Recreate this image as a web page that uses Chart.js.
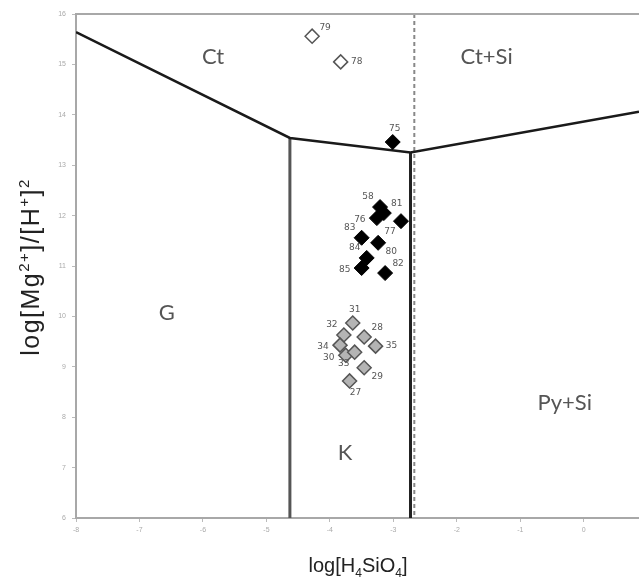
<!DOCTYPE html>
<html>
<head>
<meta charset="utf-8">
<script src="https://cdn.jsdelivr.net/npm/chart.js@4"></script>
<style>
  html, body { margin: 0; padding: 0; background: #fff; }
  #wrap { width: 639px; height: 583px; }
</style>
</head>
<body>
<div id="wrap"><canvas id="c" width="639" height="583"></canvas></div>
<script>
// phase boundaries
const upperBoundary = [[-8, 15.64], [-4.63, 13.54], [-2.73, 13.25], [0.87, 14.06]];
const gkBoundary = [[-4.63, 13.54], [-4.63, 6]];
const kpyBoundary = [[-2.73, 13.25], [-2.73, 6]];
const silicaLine = [[-2.67, 16], [-2.67, 6]];

// samples
const openIds = ['79', '78'];
const openX = [-4.28, -3.83];
const openY = [15.56, 15.05];

const blackIds = ['75', '58', '81', '76', '77', '83', '80', '84', '85', '82'];
const blackX = [-3.01, -3.21, -3.15, -3.26, -2.88, -3.50, -3.24, -3.42, -3.50, -3.13];
const blackY = [13.46, 12.17, 12.05, 11.95, 11.89, 11.56, 11.46, 11.16, 10.96, 10.86];

const grayIds = ['31', '32', '28', '34', '35', '30', '33', '29', '27'];
const grayX = [-3.64, -3.78, -3.46, -3.84, -3.28, -3.75, -3.61, -3.46, -3.69];
const grayY = [9.87, 9.63, 9.59, 9.43, 9.41, 9.23, 9.29, 8.98, 8.72];

const fields = ['Ct', 'Ct+Si', 'G', 'K', 'Py+Si'];
const fieldX = [-5.84, -1.53, -6.57, -3.76, -0.30];
const fieldY = [15.15, 15.15, 10.07, 7.29, 8.28];

// axis titles: [text, 0 normal / 1 superscript / -1 subscript]
const xTitle = [['log[H', 0], ['4', -1], ['SiO', 0], ['4', -1], [']', 0]];
const yTitle = [['log[Mg', 0], ['2+', 1], [']/[H', 0], ['+', 1], [']', 0], ['2', 1]];

// where each sample label sits around its marker
const labelSide = {
  '79': 'ne', '78': 'e', '75': 'n', '58': 'nw', '81': 'ne', '76': 'w', '77': 'sw',
  '83': 'nw', '80': 'se', '84': 'nw', '85': 'w', '82': 'ne',
  '31': 'n', '32': 'nw', '28': 'ne', '34': 'w', '35': 'e', '30': 'w', '33': 'sw', '29': 'se', '27': 's'
};
const sideOffset = {
  n: [2, -13], ne: [13, -9], e: [16, 0], se: [13, 9], s: [6, 12],
  sw: [-11, 11], w: [-17, 2], nw: [-12, -10]
};

const pts = (xs, ys) => xs.map((x, i) => ({ x, y: ys[i] }));
const line = (arr) => arr.map(([x, y]) => ({ x, y }));

const lineStyle = (data, color, width, dash) => ({
  type: 'line', data: line(data), borderColor: color, borderWidth: width,
  borderDash: dash || [], pointRadius: 0, fill: false, tension: 0, order: 2
});

const FAM = '"Liberation Sans", Arial, sans-serif';

function richText(ctx, parts, cx, cy, size, spacing) {
  const big = size + 'px ' + FAM;
  const small = Math.round(size * 0.6) + 'px ' + FAM;
  ctx.letterSpacing = (spacing || 0) + 'px';
  let w = 0;
  parts.forEach(([t, s]) => { ctx.font = s ? small : big; w += ctx.measureText(t).width; });
  let x = cx - w / 2;
  ctx.textAlign = 'left';
  ctx.textBaseline = 'alphabetic';
  const base = cy + size * 0.36;
  parts.forEach(([t, s]) => {
    ctx.font = s ? small : big;
    const dy = s === 1 ? -size * 0.42 : s === -1 ? size * 0.22 : 0;
    ctx.fillText(t, x, base + dy);
    x += ctx.measureText(t).width;
  });
  ctx.letterSpacing = '0px';
}

const overlay = {
  id: 'overlay',
  afterDatasetsDraw(chart) {
    const { ctx, chartArea: a, scales: { x, y } } = chart;
    ctx.save();
    // frame top
    ctx.strokeStyle = '#a8a8a8';
    ctx.lineWidth = 2;
    ctx.beginPath();
    ctx.moveTo(a.left, a.top);
    ctx.lineTo(a.right, a.top);
    ctx.stroke();

    // field names
    ctx.fillStyle = '#555';
    ctx.font = '22px Lato, "DejaVu Sans", sans-serif';
    ctx.textAlign = 'center';
    ctx.textBaseline = 'middle';
    fields.forEach((f, i) => ctx.fillText(f, x.getPixelForValue(fieldX[i]), y.getPixelForValue(fieldY[i])));

    // sample numbers
    ctx.font = '9px "DejaVu Sans", sans-serif';
    ctx.fillStyle = '#555';
    const put = (ids, xs, ys) => ids.forEach((id, i) => {
      const o = sideOffset[labelSide[id]];
      ctx.fillText(id, x.getPixelForValue(xs[i]) + o[0], y.getPixelForValue(ys[i]) + o[1]);
    });
    put(openIds, openX, openY);
    put(blackIds, blackX, blackY);
    put(grayIds, grayX, grayY);

    // axis titles
    ctx.fillStyle = '#222';
    richText(ctx, xTitle, 358, 565, 20, 0);
    ctx.translate(30, 267);
    ctx.rotate(-Math.PI / 2);
    richText(ctx, yTitle, 0, 0, 25, 1.5);
    ctx.restore();
  }
};

new Chart(document.getElementById('c'), {
  type: 'scatter',
  data: {
    datasets: [
      lineStyle(upperBoundary, '#1a1a1a', 2.5),
      lineStyle(gkBoundary, '#555', 3),
      lineStyle(silicaLine, '#888', 2, [4, 3]),
      lineStyle(kpyBoundary, '#222', 3),
      {
        data: pts(openX, openY), pointStyle: 'rectRot', pointRadius: 7,
        backgroundColor: '#fff', borderColor: '#555', borderWidth: 1.5, order: 1
      },
      {
        data: pts(grayX, grayY), pointStyle: 'rectRot', pointRadius: 7,
        backgroundColor: '#b4b4b4', borderColor: '#555', borderWidth: 1.5, order: 1
      },
      {
        data: pts(blackX, blackY), pointStyle: 'rectRot', pointRadius: 7.5,
        backgroundColor: '#000', borderColor: '#000', borderWidth: 1, order: 1
      }
    ]
  },
  options: {
    responsive: false,
    animation: false,
    events: [],
    layout: { autoPadding: false, padding: { left: 0, right: 0, top: 14, bottom: 0 } },
    plugins: { legend: { display: false }, tooltip: { enabled: false } },
    scales: {
      x: {
        type: 'linear', min: -8, max: 0.87,
        afterFit(s) { s.height = 65; },
        border: { display: true, color: '#a8a8a8', width: 2 },
        grid: { drawOnChartArea: false, tickLength: 4, color: '#bbb' },
        ticks: { stepSize: 1, includeBounds: false, color: '#aaa', font: { size: 7 }, padding: 4 }
      },
      y: {
        type: 'linear', min: 6, max: 16,
        afterFit(s) { s.width = 76; },
        border: { display: true, color: '#a8a8a8', width: 2 },
        grid: { drawOnChartArea: false, tickLength: 4, color: '#bbb' },
        ticks: { stepSize: 1, color: '#aaa', font: { size: 7 }, padding: 6 }
      }
    }
  },
  plugins: [overlay]
});
</script>
</body>
</html>
